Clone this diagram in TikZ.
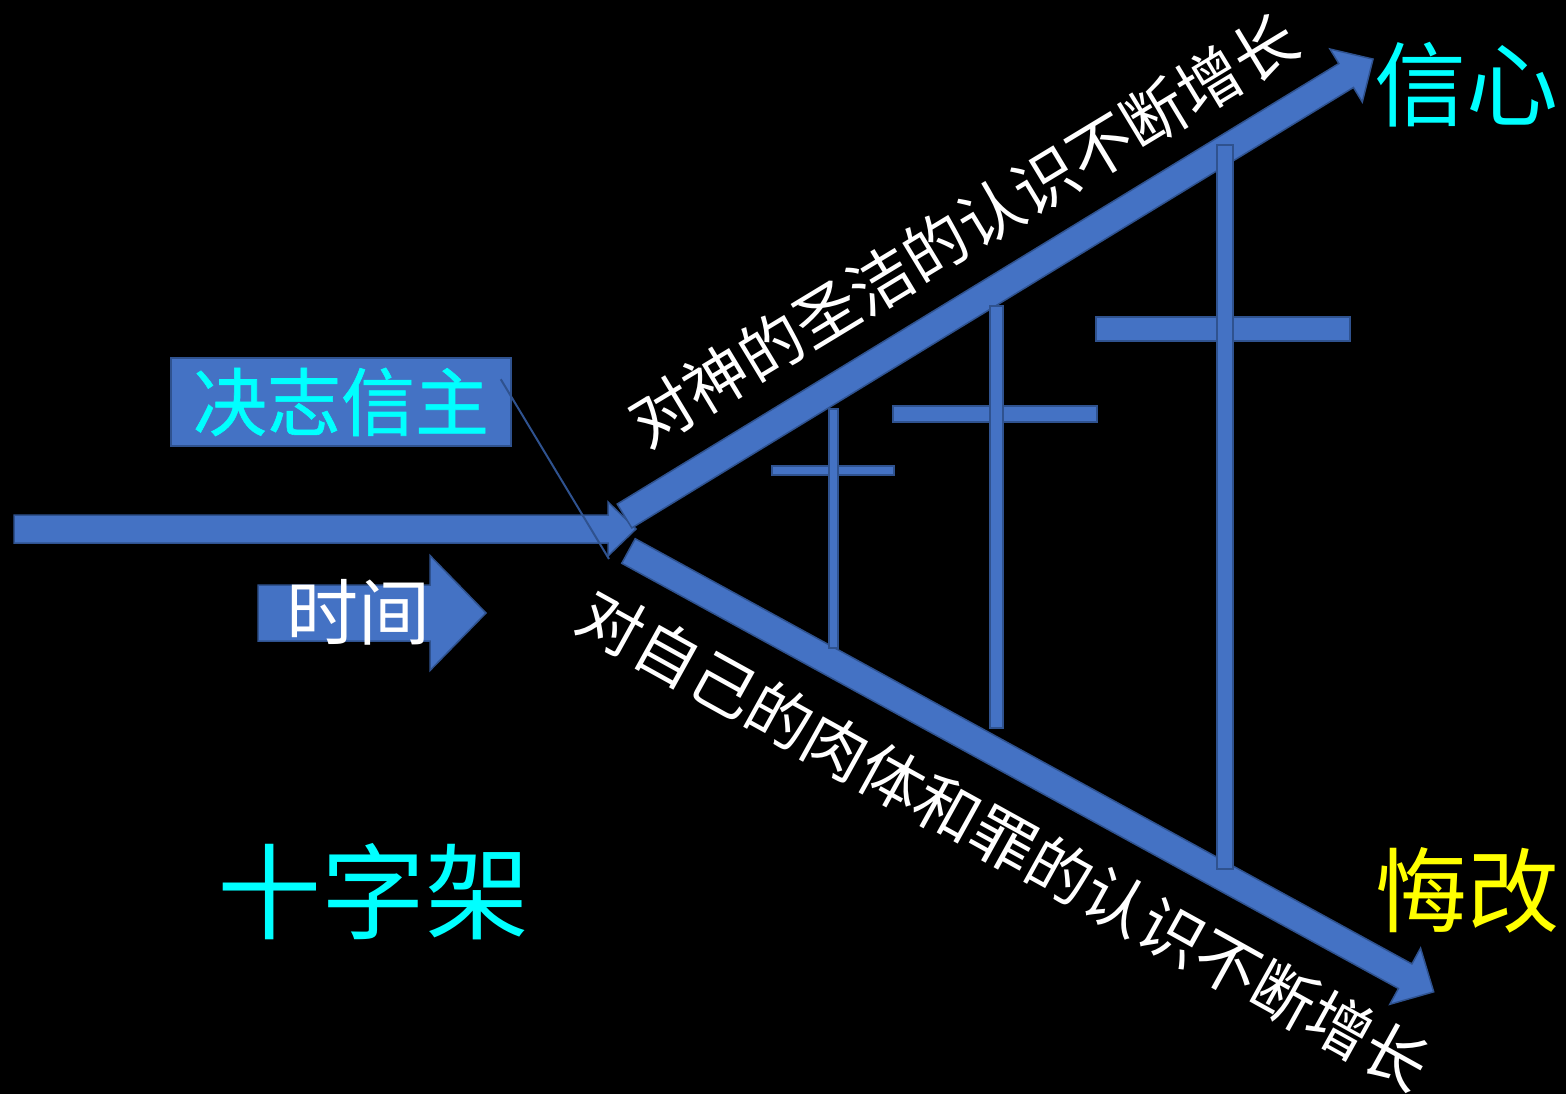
\documentclass[tikz,border=0pt]{standalone}
\usepackage{fontspec}
\setmainfont{Noto Sans CJK SC}
\newfontfamily\heavycjk{Noto Sans CJK SC}[FakeBold=0.8]
\definecolor{arrowblue}{HTML}{4472C4}
\definecolor{edgeblue}{HTML}{2F528F}
\definecolor{titlecyan}{HTML}{00FFFF}
\definecolor{titleyellow}{HTML}{FFFF00}
\newcommand\blockarrow[7]{% x y angle length halfshaft halfhead headlen
  \begin{scope}[shift={(#1,#2)},rotate=#3]
    \draw[barrow] (0,-#5) -- ({#4-#7},-#5) -- ({#4-#7},-#6) -- (#4,0)
      -- ({#4-#7},#6) -- ({#4-#7},#5) -- (0,#5) -- cycle;
  \end{scope}}
\tikzset{
  barrow/.style={fill=arrowblue,draw=edgeblue,line width=1.5pt,line join=miter},
  crossbar/.style={fill=arrowblue,draw=edgeblue,line width=1.5pt},
  decidebox/.style={fill=arrowblue,draw=edgeblue,line width=1.5pt,minimum width=340pt,minimum height=88pt,inner sep=0pt,text=titlecyan,font=\heavycjk\fontsize{74}{80}\selectfont},
  bigtext/.style={inner sep=0pt,font=\fontsize{92}{100}\selectfont},
  slanttext/.style={inner sep=0pt,text=white,font=\fontsize{64}{70}\selectfont},
  thinline/.style={draw=edgeblue,line width=2pt}
}
\begin{document}
\begin{tikzpicture}[x=1pt,y=-1pt]
\fill[black] (0,0) rectangle (1566,1094);
\useasboundingbox (0,0) rectangle (1566,1094);

% main arrows
\blockarrow{14}{529}{0}{622}{14}{27}{28}
\blockarrow{624.5}{516}{31.4}{877}{14}{31}{31.5}
\blockarrow{628.5}{551}{-28.7}{918}{14}{32}{32.5}
% time arrow
\blockarrow{258}{613}{0}{228}{28}{57.5}{56}

% crosses
\draw[crossbar] (772,466) rectangle (894,475);
\draw[crossbar] (829,409) rectangle (838,648);
\draw[crossbar] (893,406) rectangle (1097,422);
\draw[crossbar] (990,306) rectangle (1003,728);
\draw[crossbar] (1096,317) rectangle (1350,341);
\draw[crossbar] (1217,145) rectangle (1233,869);

% decision box and its pointer
\node[decidebox] (decide) at (341,402) {决志信主};
\coordinate (linestart) at ([xshift=-11pt,yshift=-22pt]decide.north east);
\coordinate (lineend) at (609,559);
\draw[thinline] (linestart) -- (lineend);

% labels
\node[inner sep=0pt,text=white,font=\fontsize{72}{80}\selectfont] (time) at (358,612) {时间};
\node[bigtext,text=titlecyan] (faith) at (1466,85) {信心};
\node[bigtext,text=titleyellow] (repent) at (1467,890) {悔改};
\node[inner sep=0pt,text=titlecyan,font=\fontsize{104}{110}\selectfont] (crosslabel) at (373,892) {十字架};
\node[slanttext,rotate=31.2] (upper) at (963,230) {对神的圣洁的认识不断增长};
\node[slanttext,rotate=-29] (lower) at (1004,840) {对自己的肉体和罪的认识不断增长};
\end{tikzpicture}
\end{document}
